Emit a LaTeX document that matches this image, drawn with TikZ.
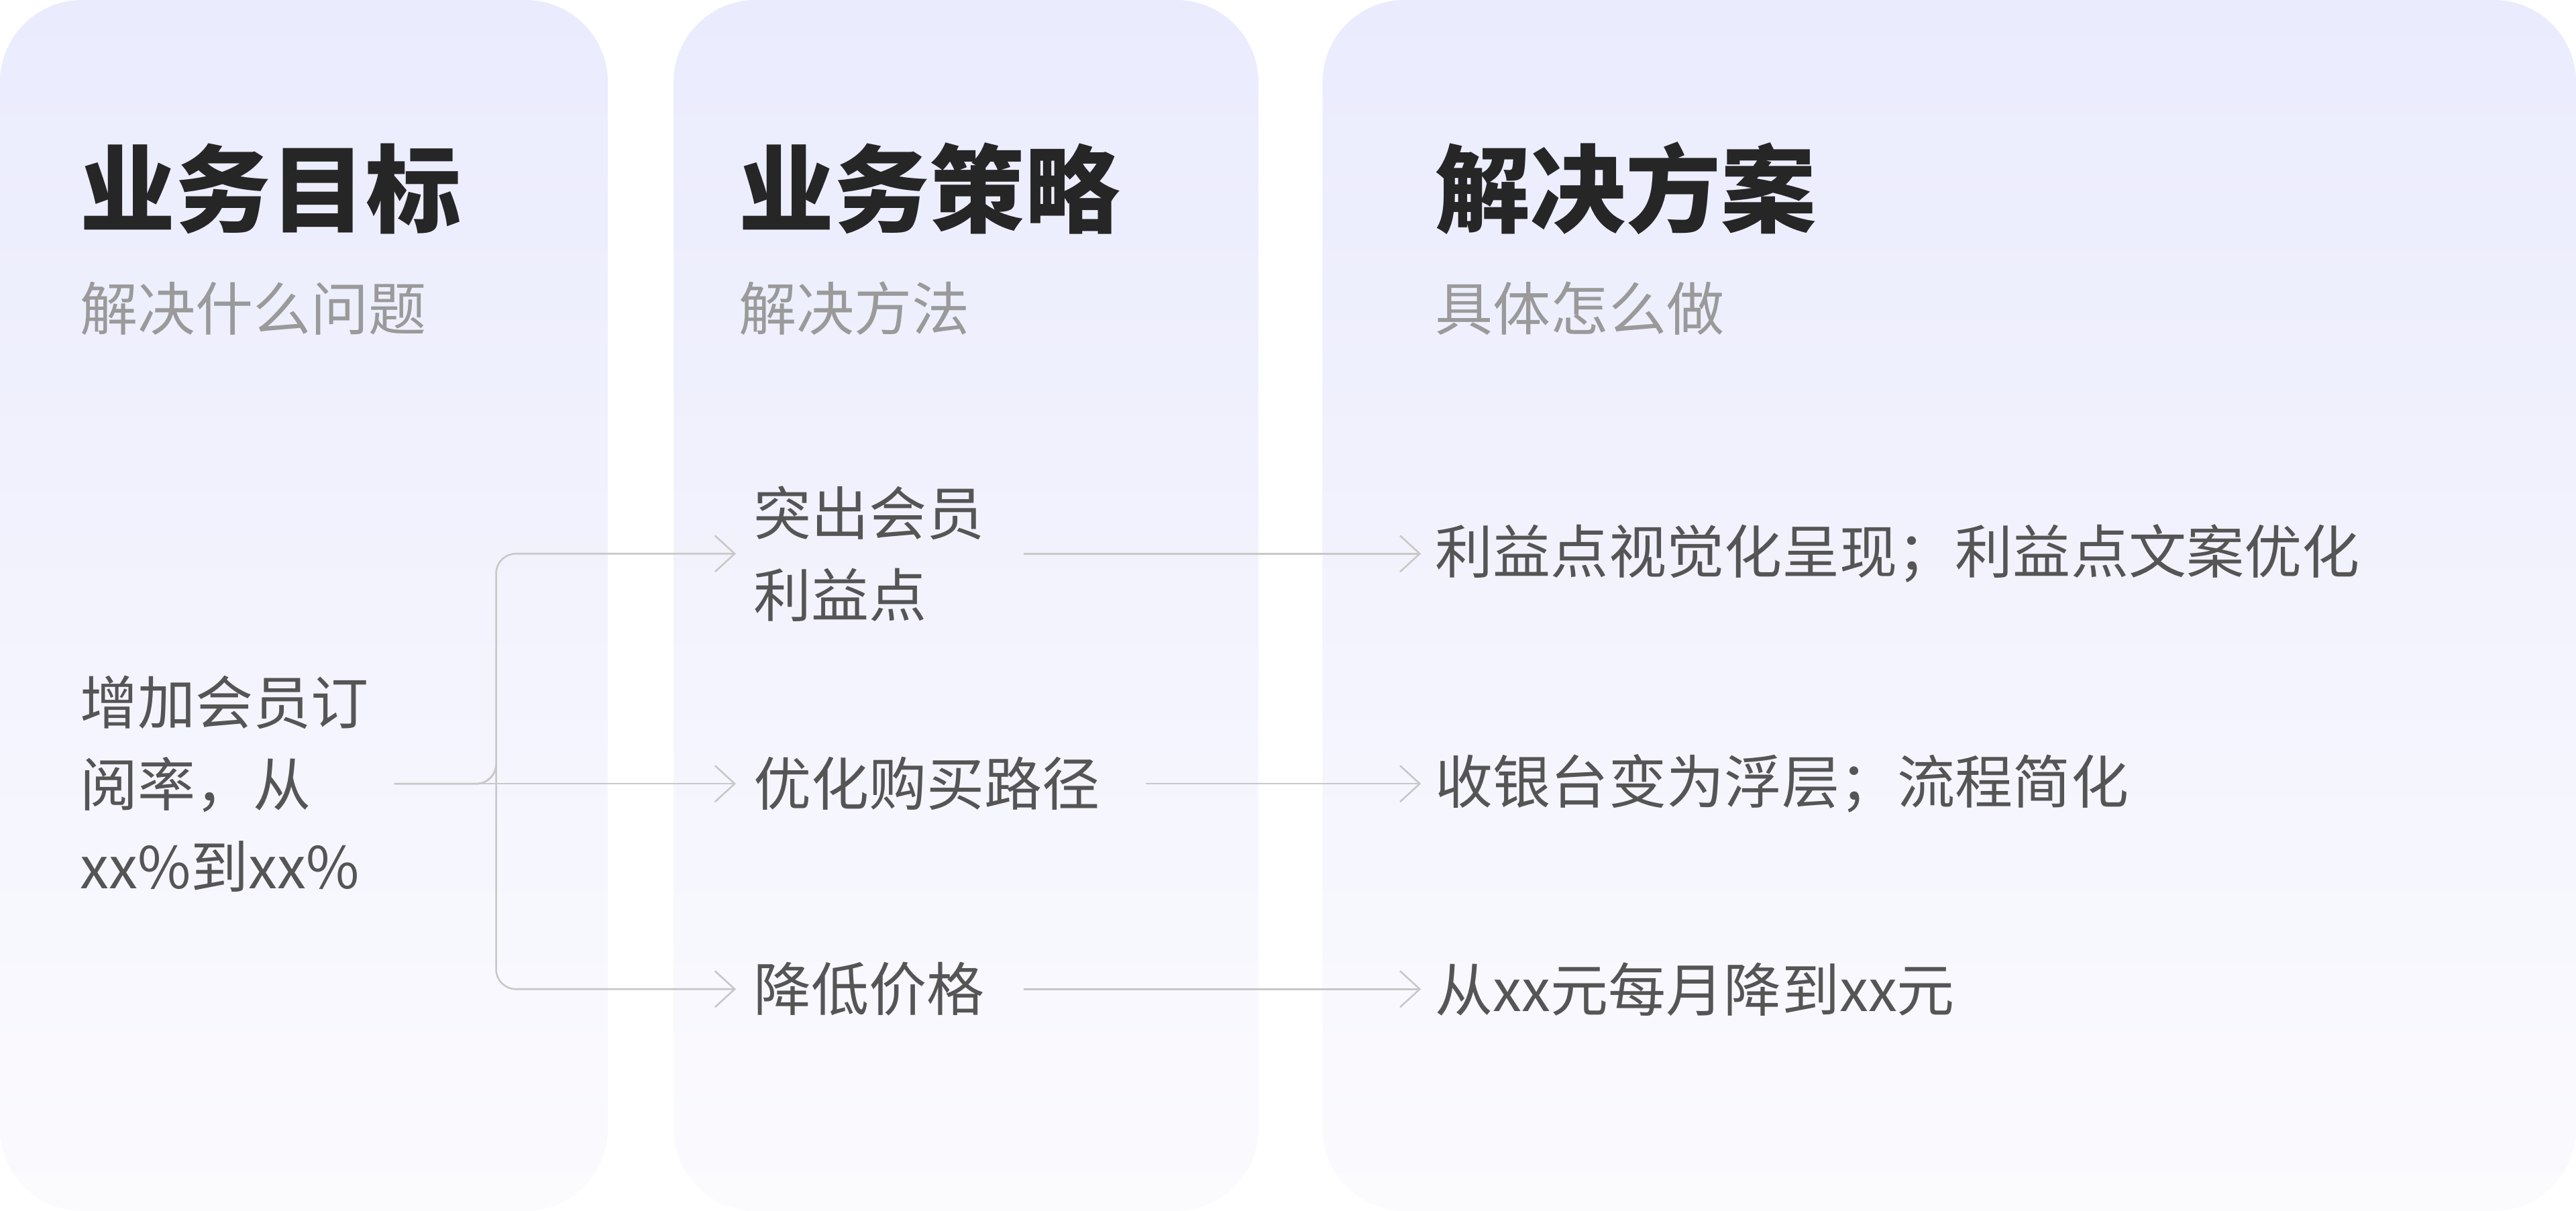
\documentclass[tikz,border=0pt]{standalone}
\usepackage{fontspec}
\setmainfont{Noto Sans CJK SC}
\newfontfamily\cjkbold{Noto Sans CJK SC Black}
\usetikzlibrary{arrows.meta}
\definecolor{panelTop}{HTML}{EAEBFD}
\definecolor{panelBot}{HTML}{FBFBFE}
\definecolor{bodyGray}{HTML}{555555}
\definecolor{subGray}{HTML}{9A9A9A}
\definecolor{lineGray}{HTML}{C8C8C8}
\begin{document}
\begin{tikzpicture}[%
        x = 0.01cm, y = -0.01cm,
        panel/.style = {rounded corners = 0.5cm, top color = panelTop, bottom color = panelBot, draw = none},
        title/.style = {anchor = base west, inner sep = 0, text = black!85, font = \cjkbold\fontsize{16.5}{20}\selectfont},
        sub/.style = {anchor = base west, inner sep = 0, text = subGray, font = \fontsize{10}{12}\selectfont},
        item/.style = {anchor = west, inner sep = 0, align = left, text = bodyGray, font = \fontsize{10}{14.2}\selectfont},
        link/.style = {draw = lineGray, line width = 0.3pt, -{Straight Barb[length = 1.2mm, width = 2.2mm]}}
    ]
        \useasboundingbox (0, 0) rectangle (1568, 737);
        \fill[white] (0, 0) rectangle (1568, 737);

        % Three column panels.
        \shade[panel] (0, 0) rectangle (370, 737);
        \shade[panel] (410, 0) rectangle (766, 737);
        \shade[panel] (805, 0) rectangle (1568, 737);

        % Column headings.
        \node[title] (goalT) at (48, 137) {业务目标};
        \node[sub] (goalS) at (48, 201) {解决什么问题};
        \node[title] (stratT) at (449, 137) {业务策略};
        \node[sub] (stratS) at (449, 201) {解决方法};
        \node[title] (planT) at (873, 137) {解决方案};
        \node[sub] (planS) at (873, 201) {具体怎么做};

        % Items.
        \node[item] (goal) at (48, 477) {增加会员订\\阅率，从\\xx\%到xx\%};
        \node[item] (stratA) at (458, 337) {突出会员\\利益点};
        \node[item] (stratB) at (458, 477) {优化购买路径};
        \node[item] (stratC) at (458, 602) {降低价格};
        \node[item] (planA) at (873, 337) {利益点视觉化呈现；利益点文案优化};
        \node[item] (planB) at (873, 477) {收银台变为浮层；流程简化};
        \node[item] (planC) at (873, 602) {从xx元每月降到xx元};

        % Branching connectors from the goal.
        \coordinate (fork) at (302, 477);
        \draw[link] (240, 477) -- (stratB.west -| 448, 0) ;
        \draw[link, rounded corners = 0.12cm] (240, 477) -| (fork) |- (448, 337);
        \draw[link, rounded corners = 0.12cm] (240, 477) -| (fork) |- (448, 602);

        % Strategy to plan connectors.
        \draw[link] (623, 337) -- (865, 337);
        \draw[link] (stratB.east) ++(27, 0) -- (865, 477);
        \draw[link] (623, 602) -- (865, 602);
    \end{tikzpicture}
\end{document}
